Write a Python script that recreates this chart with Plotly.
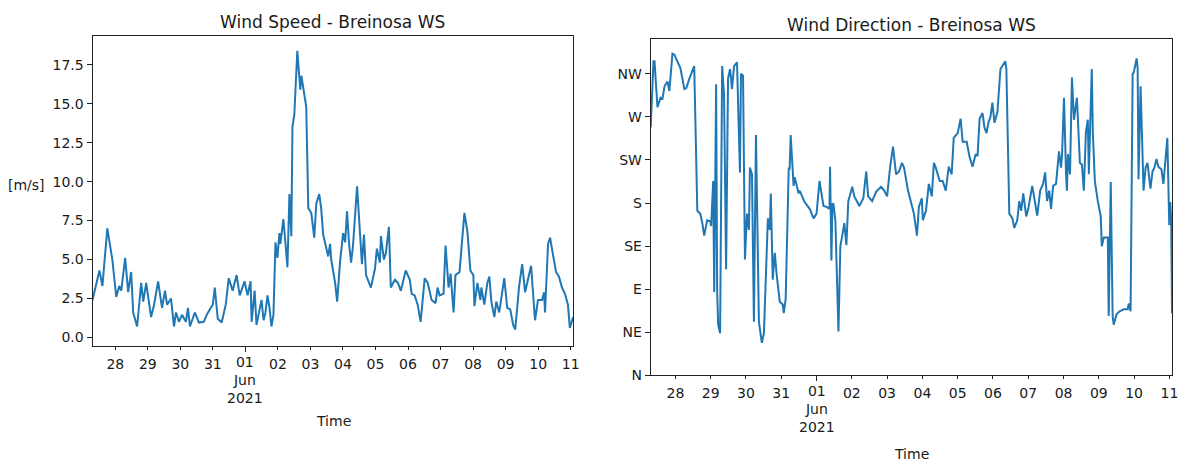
import pandas as pd
import plotly.graph_objects as go

# ---------------- data ----------------
START = "2021-05-27 00:00"   # hours below are counted from this moment

speed_hours = [7.2, 12.3, 14.5, 16.7, 18.1, 21.8, 24.7, 26.9, 28.4, 31.3, 33.5, 35.7, 37.2, 40.1,
               43.1, 44.6, 46.8, 50.4, 52.6, 55.6, 58.5, 60.7, 62.2, 65.1, 67.3, 68.8, 71.0, 73.2,
               76.1, 77.6, 79.1, 82.7, 85.7, 89.3, 91.5, 94.5, 95.9, 97.4, 99.6, 102.5, 105.5, 107.7,
               110.6, 113.5, 115.8, 119.4, 121.6, 123.8, 124.6, 126.8, 128.2, 131.9, 133.4, 134.8,
               136.3, 137.8, 139.2, 140.7, 142.2, 143.6, 145.1, 145.8, 148.0, 149.5, 151.0, 152.5,
               153.9, 154.7, 156.1, 158.3, 160.5, 161.3, 162.7, 164.9, 166.4, 168.6, 170.8, 172.3,
               174.5, 175.9, 177.4, 178.9, 181.1, 182.5, 183.3, 186.2, 187.7, 189.9, 192.1, 193.6,
               195.0, 196.5, 198.0, 199.4, 202.4, 206.0, 207.5, 209.0, 212.6, 215.6, 217.0, 219.2,
               220.0, 222.2, 223.6, 225.9, 227.3, 230.3, 232.5, 234.7, 238.3, 241.3, 242.7, 244.9,
               247.1, 249.3, 252.3, 254.5, 257.4, 260.3, 261.8, 263.3, 266.2, 267.7, 269.9, 271.4,
               273.6, 275.0, 278.0, 281.6, 283.8, 286.0, 288.2, 289.0, 291.2, 293.4, 294.1, 296.3,
               298.5, 300.0, 301.5, 303.7, 305.1, 307.3, 308.8, 311.0, 313.2, 315.4, 317.6, 319.1,
               322.0, 324.2, 326.4, 329.3, 330.8, 333.7, 335.9, 338.9, 340.4, 341.1, 343.3, 344.8,
               347.7, 349.2, 351.4, 353.6, 355.8, 358.0, 359.4, 361.8]
speed_values = [2.4, 4.3, 3.3, 5.4, 7.0, 5.0, 2.6, 3.3, 3.0, 5.1, 2.9, 4.2, 1.6, 0.7,
                3.5, 2.3, 3.5, 1.3, 2.1, 3.6, 1.9, 3.0, 2.1, 2.5, 0.7, 1.6, 1.0, 1.45,
                1.0, 1.9, 0.7, 1.6, 0.95, 1.0, 1.45, 1.9, 2.1, 3.2, 1.2, 0.95, 2.1, 3.8,
                3.0, 4.0, 2.7, 3.6, 2.7, 3.6, 1.0, 3.0, 0.8, 2.4, 1.1, 1.6,
                2.7, 1.9, 0.7, 1.45, 6.1, 5.1, 6.7, 6.0, 7.6, 6.1, 4.5, 9.2,
                6.5, 13.5, 14.3, 18.4, 15.9, 16.8, 16.0, 14.8, 8.3, 8.0, 6.4, 8.6,
                9.2, 8.3, 6.6, 6.1, 5.2, 6.0, 5.0, 3.5, 2.3, 4.9, 6.7, 6.1,
                8.1, 6.0, 4.8, 5.9, 9.7, 4.7, 6.6, 4.0, 3.2, 4.4, 5.7, 4.8,
                6.5, 5.0, 5.4, 7.1, 3.2, 3.7, 3.5, 3.0, 4.3, 3.7, 2.8, 2.7,
                2.1, 1.0, 3.8, 3.5, 2.4, 2.2, 3.2, 2.7, 2.8, 5.9, 3.2, 4.1,
                1.6, 4.0, 4.2, 8.0, 6.8, 4.3, 4.0, 2.0, 3.5, 2.4, 3.2, 2.1,
                3.5, 3.9, 2.3, 1.3, 2.3, 1.6, 2.5, 3.8, 1.9, 1.8, 0.8, 0.5,
                3.3, 4.7, 2.9, 4.1, 4.6, 1.1, 2.4, 2.4, 2.9, 1.6, 6.0, 6.4,
                5.0, 4.2, 3.9, 3.2, 2.8, 2.1, 0.6, 1.3]

dir_hours = [7.2, 9.1, 9.8, 11.8, 13.9, 15.2, 16.6, 18.6, 19.9, 22.0, 23.3, 25.4, 27.4, 30.1,
             31.4, 33.5, 36.8, 38.9, 40.9, 42.3, 43.6, 45.6, 47.7, 48.3, 49.7, 50.4, 51.0, 51.7,
             52.4, 53.1, 54.4, 55.8, 57.1, 58.5, 59.8, 61.2, 62.5, 63.9, 65.9, 67.9, 68.6, 70.0,
             71.3, 72.7, 74.0, 74.7, 76.1, 77.4, 78.8, 80.8, 82.8, 84.2, 86.9, 88.2, 88.9, 90.2,
             91.6, 92.9, 95.0, 97.0, 97.7, 99.0, 101.1, 101.7, 102.4, 104.4, 105.1, 107.8, 108.5,
             111.9, 115.3, 118.0, 120.0, 122.0, 124.7, 126.8, 128.8, 129.2, 130.1, 130.8, 131.5,
             132.8, 134.9, 136.2, 137.6, 138.9, 140.3, 141.6, 144.3, 145.7, 149.1, 151.8, 153.8,
             155.1, 157.8, 160.6, 163.9, 166.0, 168.0, 170.0, 172.0, 174.1, 176.1, 178.1, 179.5,
             182.2, 184.2, 186.2, 188.3, 189.6, 191.6, 192.3, 194.4, 196.4, 198.4, 199.8, 201.1,
             203.8, 205.8, 207.9, 209.9, 211.9, 213.3, 216.0, 218.0, 219.4, 222.1, 224.1, 226.1,
             228.2, 229.5, 230.9, 232.9, 234.2, 235.6, 236.9, 238.3, 239.6, 241.0, 243.0, 245.1,
             246.4, 248.4, 249.1, 251.1, 253.2, 254.5, 256.5, 257.9, 259.2, 260.6, 262.6, 264.0,
             266.7, 268.0, 270.1, 272.1, 274.1, 275.5, 276.8, 278.2, 279.5, 280.9, 282.9, 284.9,
             286.3, 287.0, 288.3, 289.7, 290.3, 291.0, 292.4, 293.7, 295.1, 297.1, 297.8, 299.1,
             300.5, 301.8, 303.2, 304.5, 305.2, 307.2, 307.9, 309.3, 311.3, 313.3, 314.0, 315.4,
             318.1, 318.7, 320.1, 321.4, 322.1, 324.1, 326.2, 328.9, 331.6, 332.3, 333.6, 335.0,
             335.7, 337.7, 338.4, 339.0, 340.4, 341.1, 342.4, 343.8, 345.1, 347.1, 348.5, 349.8,
             351.2, 352.5, 354.6, 355.9, 357.9, 358.6, 359.9, 360.6, 361.2, 361.8]
dir_values = [259, 328, 328, 280, 290, 289, 302, 307, 297, 336, 335, 328, 321, 299,
              300, 310, 323, 172, 169, 159, 146, 162, 161, 156, 203, 87, 162, 304,
              87, 53, 44, 323, 292, 111, 310, 320, 299, 323, 327, 212, 315, 313,
              121, 169, 152, 217, 210, 56, 251, 56, 34, 44, 164, 152, 190, 100,
              128, 105, 77, 74, 65, 80, 217, 215, 251, 198, 207, 190, 193,
              181, 174, 164, 169, 203, 177, 176, 174, 218, 120, 179, 179,
              162, 46, 135, 147, 159, 136, 182, 197, 187, 177, 185, 213,
              187, 182, 192, 197, 193, 187, 217, 239, 210, 213, 222, 217,
              193, 181, 169, 146, 176, 185, 162, 172, 200, 187, 222, 217,
              203, 203, 193, 218, 210, 248, 253, 268, 244, 244, 228, 218,
              231, 229, 268, 274, 259, 253, 264, 270, 285, 264, 275, 320,
              323, 328, 320, 169, 164, 154, 162, 182, 172, 190, 166, 174,
              198, 187, 167, 193, 200, 212, 182, 193, 174, 198, 200, 234,
              217, 231, 290, 210, 193, 231, 210, 311, 267, 290, 264, 222,
              220, 193, 254, 267, 210, 320, 254, 203, 182, 166, 135, 144,
              144, 62, 202, 62, 53, 64, 67, 69, 69, 75, 67, 315,
              316, 331, 321, 205, 302, 269, 193, 217, 222, 195, 213, 217,
              226, 218, 215, 200, 238, 248, 157, 181, 162, 65]

day_ticks = ["2021-05-28", "2021-05-29", "2021-05-30", "2021-05-31", "2021-06-01",
             "2021-06-02", "2021-06-03", "2021-06-04", "2021-06-05", "2021-06-06",
             "2021-06-07", "2021-06-08", "2021-06-09", "2021-06-10", "2021-06-11"]
day_tick_labels = ["28", "29", "30", "31", "01<br>Jun<br>2021", "02", "03", "04", "05",
                   "06", "07", "08", "09", "10", "11"]
month_tick = "2021-06-01"      # major tick (month start), labelled lower with a longer tick
speed_ticks = [0.0, 2.5, 5.0, 7.5, 10.0, 12.5, 15.0, 17.5]
dir_ticks = [0, 45, 90, 135, 180, 225, 270, 315]
dir_tick_labels = ["N", "NE", "E", "SE", "S", "SW", "W", "NW"]

# ---------------- figure ----------------
W, H = 1189, 465
t0 = pd.Timestamp(START)
speed_time = t0 + pd.to_timedelta(speed_hours, unit="h")
dir_time = t0 + pd.to_timedelta(dir_hours, unit="h")

FONT = "DejaVu Sans"
TXT = "#1a1a1a"
BLUE = "#1f77b4"
AX = "#222"

fig = go.Figure()
fig.add_trace(go.Scatter(x=speed_time, y=speed_values, mode="lines",
                         line=dict(color=BLUE, width=2), xaxis="x", yaxis="y",
                         showlegend=False))
fig.add_trace(go.Scatter(x=dir_time, y=dir_values, mode="lines",
                         line=dict(color=BLUE, width=2), xaxis="x2", yaxis="y2",
                         showlegend=False))


def px_x(p):
    return p / W


def px_y(p):
    return 1 - p / H


base = dict(showline=True, mirror=True, linecolor=AX, linewidth=1,
            ticks="outside", tickwidth=1, tickcolor=AX,
            showgrid=False, zeroline=False,
            tickfont=dict(family=FONT, size=14, color=TXT))

major_idx = day_ticks.index(month_tick)
x_ticktext = [("" if i == major_idx else t) for i, t in enumerate(day_tick_labels)]


def xaxis_def(domain, anchor, times):
    return dict(domain=domain, anchor=anchor, type="date",
                range=[times.min(), times.max()],
                tickmode="array", tickvals=day_ticks, ticktext=x_ticktext,
                ticklen=3, ticklabelstandoff=2,
                minor=dict(tickvals=[month_tick], ticks="outside", ticklen=5,
                           tickwidth=1, tickcolor=AX, showgrid=False),
                **base)


fig.update_layout(
    width=W, height=H, autosize=False,
    margin=dict(l=0, r=0, t=0, b=0),
    paper_bgcolor="white", plot_bgcolor="white",
    font=dict(family=FONT, size=14, color=TXT),
    xaxis=xaxis_def([px_x(93), px_x(576)], "y", speed_time),
    yaxis=dict(domain=[px_y(352), px_y(37)], anchor="x", range=[-0.55, 19.33],
               tickmode="array", tickvals=speed_ticks, ticklen=5,
               ticktext=[f"{v:.1f}" for v in speed_ticks], **base),
    xaxis2=xaxis_def([px_x(654), px_x(1178)], "y2", dir_time),
    yaxis2=dict(domain=[px_y(382), px_y(40)], anchor="x2", range=[0, 351],
                tickmode="array", tickvals=dir_ticks, ticktext=dir_tick_labels,
                ticklen=5, **base),
)

annotations = [
    dict(text="Wind Speed - Breinosa WS", x=px_x(334.5), y=px_y(22.5), size=17),
    dict(text="Wind Direction - Breinosa WS", x=px_x(916), y=px_y(25.5), size=17),
    dict(text="Time", x=px_x(335), y=px_y(428), size=14),
    dict(text="Time", x=px_x(916), y=px_y(462), size=14),
]
for a in annotations:
    fig.add_annotation(text=a["text"], x=a["x"], y=a["y"], xref="paper", yref="paper",
                       xanchor="center", yanchor="middle", showarrow=False,
                       font=dict(family=FONT, size=a["size"], color=TXT))
fig.add_annotation(text="[m/s]", x=px_x(47), y=px_y(188), xref="paper", yref="paper",
                   xanchor="right", yanchor="middle", showarrow=False,
                   font=dict(family=FONT, size=14, color=TXT))

# month-start label (multi-line), slightly lower than the day labels
for xref, spine in (("x", 352), ("x2", 382)):
    fig.add_annotation(text=day_tick_labels[major_idx], x=month_tick, xref=xref,
                       y=px_y(spine + 6), yref="paper", xanchor="center", yanchor="top",
                       showarrow=False, align="center",
                       font=dict(family=FONT, size=14, color=TXT))

fig.write_html("out.html")
